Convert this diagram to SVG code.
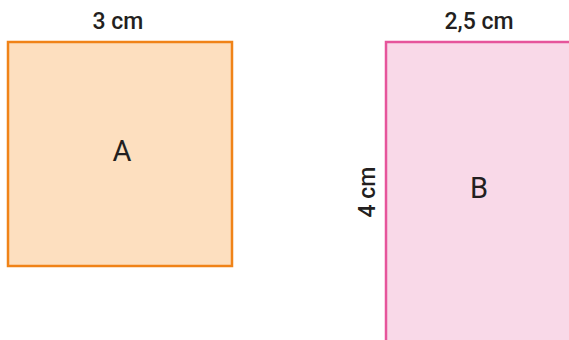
<svg xmlns="http://www.w3.org/2000/svg" width="569" height="340" viewBox="0 0 569 340">
<style>
text{font-family:Roboto,"Liberation Sans",Arial,sans-serif;font-weight:500;font-size:23px;fill:#231f20;text-anchor:middle}
.lbl{font-size:29px;font-weight:400}
.a{fill:#fddfbf;stroke:#f08318;stroke-width:2.5}
.b{fill:#f9d9e8;stroke:#e6559b;stroke-width:2.5}
</style>
<rect width="569" height="340" fill="#fff"/>
<g id="square-A">
<rect class="a" x="8" y="42" width="224" height="224"/>
<text class="lbl" x="122" y="161">A</text>
<text x="118" y="29">3 cm</text>
</g>
<g id="rect-B">
<rect class="b" x="386" y="42" width="200" height="310"/>
<text class="lbl" x="479" y="198">B</text>
<text x="479" y="29">2,5 cm</text>
<text transform="translate(375 192) rotate(-90)">4 cm</text>
</g>
<g id="connectors"/>
</svg>
